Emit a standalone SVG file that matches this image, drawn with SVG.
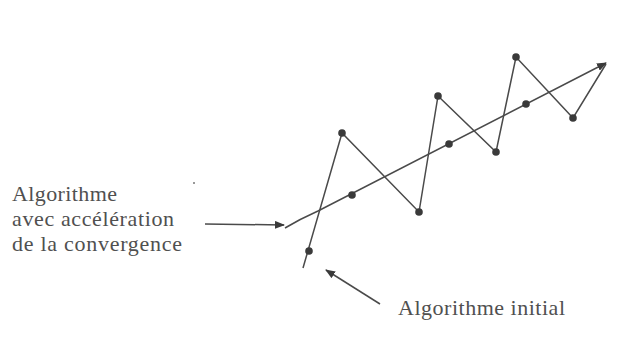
<svg xmlns="http://www.w3.org/2000/svg" width="632" height="360" viewBox="0 0 632 360">
<style>
.lbl{font-family:"Liberation Serif","Times New Roman",serif;font-size:22px;fill:#505050}
.ln{stroke:#4a4a4a;stroke-width:1.5;fill:none}
.pt{fill:#3a3a3a}
</style>
<defs>
<marker id="ah" markerWidth="10" markerHeight="8" refX="9" refY="4" orient="auto" markerUnits="userSpaceOnUse">
<path d="M0,0 L10,4 L0,8 Z" fill="#3a3a3a"/>
</marker>
</defs>
<rect width="632" height="360" fill="#fff"/>
<g id="connectors">
<polyline class="ln" points="303,268 342,133 419,212 438,96 496,152 516,57 573,118 606,64"/>
<path class="ln" d="M285,228 Q300,219 318,211 L606,63" marker-end="url(#ah)"/>
<line class="ln" x1="205" y1="224" x2="284" y2="225" marker-end="url(#ah)"/>
<line class="ln" x1="380" y1="304" x2="326" y2="270" marker-end="url(#ah)"/>
</g>
<g id="initial-points">
<circle class="pt" cx="309" cy="251" r="3.8"/>
<circle class="pt" cx="342" cy="133" r="3.8"/>
<circle class="pt" cx="419" cy="212" r="3.8"/>
<circle class="pt" cx="438" cy="96" r="3.8"/>
<circle class="pt" cx="496" cy="152" r="3.8"/>
<circle class="pt" cx="516" cy="57" r="3.8"/>
<circle class="pt" cx="573" cy="118" r="3.8"/>
</g>
<g id="accelerated-points">
<circle class="pt" cx="352" cy="195" r="3.8"/>
<circle class="pt" cx="449" cy="144" r="3.8"/>
<circle class="pt" cx="526" cy="104" r="3.8"/>
</g>
<circle cx="194" cy="183" r="1" fill="#777"/>
<g id="label-accel">
<text class="lbl" x="12" y="201" textLength="105" lengthAdjust="spacing">Algorithme</text>
<text class="lbl" x="12" y="226" textLength="162" lengthAdjust="spacing">avec accélération</text>
<text class="lbl" x="12" y="251" textLength="170" lengthAdjust="spacing">de la convergence</text>
</g>
<g id="label-initial">
<text class="lbl" x="398" y="315" textLength="167" lengthAdjust="spacing">Algorithme initial</text>
</g>
</svg>
